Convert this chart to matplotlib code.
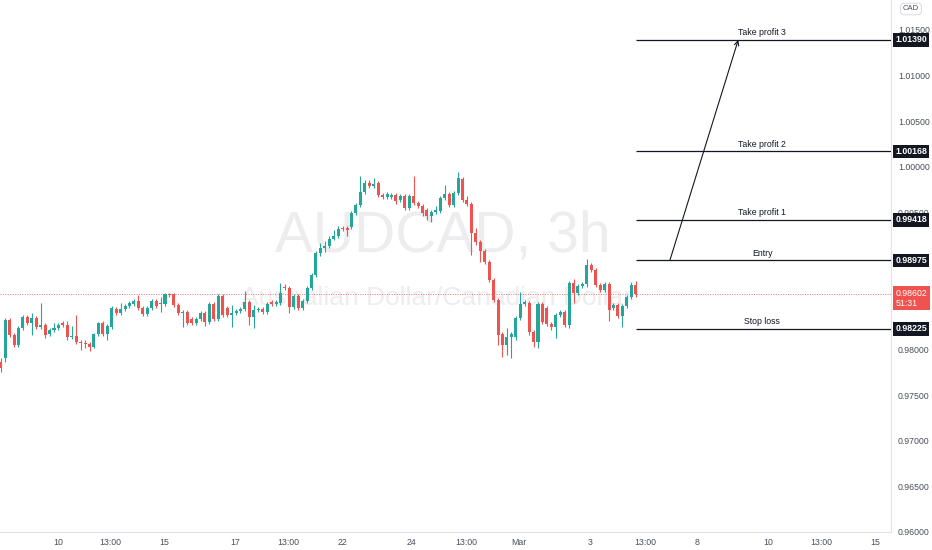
import numpy as np
import matplotlib
matplotlib.use("Agg")
import matplotlib.pyplot as plt

plt.rcParams['font.family'] = ['Liberation Sans', 'DejaVu Sans']

# AUDCAD 3h candles
opens = [
    0.97862, 0.97905, 0.98322, 0.98158, 0.98048, 0.98234, 0.98355, 0.98289, 0.98344, 0.98245,
    0.98267, 0.98169, 0.98213, 0.98234, 0.98289, 0.98267, 0.98136, 0.98147, 0.98081, 0.98070,
    0.98059, 0.98026, 0.98169, 0.98289, 0.98169, 0.98245, 0.98442, 0.98399, 0.98442, 0.98475,
    0.98497, 0.98530, 0.98453, 0.98388, 0.98453, 0.98530, 0.98497, 0.98497, 0.98607, 0.98607,
    0.98486, 0.98399, 0.98410, 0.98333, 0.98289, 0.98333, 0.98399, 0.98300, 0.98497, 0.98333,
    0.98585, 0.98453, 0.98377, 0.98399, 0.98421, 0.98442, 0.98519, 0.98355, 0.98432, 0.98442,
    0.98410, 0.98519, 0.98497, 0.98508, 0.98683, 0.98672, 0.98464, 0.98585, 0.98453, 0.98530,
    0.98672, 0.98815, 0.99056, 0.99110, 0.99132, 0.99209, 0.99242, 0.99330, 0.99330, 0.99341,
    0.99494, 0.99581, 0.99724, 0.99822, 0.99789, 0.99822, 0.99691, 0.99669, 0.99669, 0.99691,
    0.99636, 0.99680, 0.99549, 0.99680, 0.99603, 0.99570, 0.99527, 0.99461, 0.99505, 0.99516,
    0.99658, 0.99702, 0.99581, 0.99713, 0.99866, 0.99636, 0.99592, 0.99275, 0.99176, 0.99078,
    0.98957, 0.98760, 0.98541, 0.98169, 0.98048, 0.98136, 0.98136, 0.98344, 0.98497, 0.98508,
    0.98191, 0.98081, 0.98497, 0.98453, 0.98278, 0.98245, 0.98377, 0.98410, 0.98267, 0.98727,
    0.98618, 0.98694, 0.98716, 0.98924, 0.98870, 0.98705, 0.98651, 0.98716, 0.98453, 0.98486,
    0.98366, 0.98475, 0.98574, 0.98705,
]
closes = [
    0.97796, 0.98322, 0.98158, 0.98048, 0.98234, 0.98355, 0.98289, 0.98344, 0.98245, 0.98267,
    0.98158, 0.98213, 0.98234, 0.98267, 0.98267, 0.98136, 0.98147, 0.98081, 0.98070, 0.98059,
    0.98026, 0.98169, 0.98289, 0.98169, 0.98256, 0.98453, 0.98399, 0.98442, 0.98475, 0.98508,
    0.98530, 0.98453, 0.98388, 0.98453, 0.98530, 0.98475, 0.98508, 0.98607, 0.98596, 0.98486,
    0.98399, 0.98410, 0.98289, 0.98289, 0.98333, 0.98399, 0.98300, 0.98497, 0.98333, 0.98585,
    0.98377, 0.98377, 0.98399, 0.98421, 0.98442, 0.98519, 0.98355, 0.98432, 0.98442, 0.98410,
    0.98497, 0.98497, 0.98519, 0.98618, 0.98672, 0.98464, 0.98585, 0.98453, 0.98530, 0.98672,
    0.98815, 0.99056, 0.99110, 0.99132, 0.99209, 0.99242, 0.99319, 0.99319, 0.99308, 0.99494,
    0.99581, 0.99724, 0.99822, 0.99789, 0.99811, 0.99691, 0.99669, 0.99702, 0.99691, 0.99625,
    0.99680, 0.99549, 0.99680, 0.99603, 0.99570, 0.99494, 0.99461, 0.99505, 0.99527, 0.99658,
    0.99702, 0.99581, 0.99713, 0.99877, 0.99636, 0.99592, 0.99275, 0.99176, 0.99078, 0.98957,
    0.98760, 0.98541, 0.98158, 0.98048, 0.98136, 0.98169, 0.98344, 0.98497, 0.98519, 0.98191,
    0.98081, 0.98497, 0.98300, 0.98278, 0.98245, 0.98377, 0.98410, 0.98267, 0.98727, 0.98618,
    0.98694, 0.98716, 0.98924, 0.98870, 0.98705, 0.98651, 0.98716, 0.98432, 0.98486, 0.98366,
    0.98475, 0.98574, 0.98705, 0.98602,
]
highs = [
    0.97905, 0.98344, 0.98344, 0.98180, 0.98256, 0.98377, 0.98377, 0.98399, 0.98366, 0.98508,
    0.98289, 0.98234, 0.98289, 0.98289, 0.98311, 0.98311, 0.98256, 0.98377, 0.98103, 0.98103,
    0.98081, 0.98180, 0.98300, 0.98311, 0.98278, 0.98475, 0.98464, 0.98508, 0.98497, 0.98530,
    0.98552, 0.98596, 0.98475, 0.98475, 0.98552, 0.98552, 0.98574, 0.98618, 0.98618, 0.98618,
    0.98508, 0.98432, 0.98432, 0.98355, 0.98355, 0.98421, 0.98421, 0.98519, 0.98519, 0.98607,
    0.98607, 0.98475, 0.98486, 0.98442, 0.98464, 0.98640, 0.98541, 0.98486, 0.98464, 0.98464,
    0.98519, 0.98541, 0.98541, 0.98727, 0.98716, 0.98694, 0.98607, 0.98607, 0.98552, 0.98694,
    0.98837, 0.99078, 0.99165, 0.99187, 0.99242, 0.99308, 0.99352, 0.99352, 0.99352, 0.99516,
    0.99603, 0.99899, 0.99855, 0.99855, 0.99877, 0.99844, 0.99713, 0.99724, 0.99713, 0.99713,
    0.99702, 0.99702, 0.99702, 0.99899, 0.99625, 0.99592, 0.99549, 0.99527, 0.99570, 0.99680,
    0.99800, 0.99724, 0.99735, 0.99943, 0.99888, 0.99680, 0.99614, 0.99330, 0.99198, 0.99100,
    0.98979, 0.98782, 0.98563, 0.98191, 0.98234, 0.98191, 0.98366, 0.98629, 0.98541, 0.98530,
    0.98213, 0.98519, 0.98519, 0.98475, 0.98300, 0.98399, 0.98432, 0.98432, 0.98749, 0.98771,
    0.98716, 0.98738, 0.98990, 0.98946, 0.98892, 0.98727, 0.98738, 0.98738, 0.98508, 0.98508,
    0.98497, 0.98596, 0.98738, 0.98749,
]
lows = [
    0.97752, 0.97862, 0.98136, 0.98026, 0.98026, 0.98213, 0.98267, 0.98158, 0.98223, 0.98223,
    0.98125, 0.98147, 0.98191, 0.98213, 0.98245, 0.98103, 0.98114, 0.98059, 0.97993, 0.98015,
    0.97982, 0.98015, 0.98147, 0.98147, 0.98103, 0.98223, 0.98377, 0.98377, 0.98421, 0.98453,
    0.98475, 0.98432, 0.98366, 0.98366, 0.98432, 0.98453, 0.98410, 0.98475, 0.98574, 0.98464,
    0.98377, 0.98245, 0.98267, 0.98267, 0.98267, 0.98311, 0.98256, 0.98278, 0.98311, 0.98311,
    0.98355, 0.98355, 0.98245, 0.98377, 0.98399, 0.98421, 0.98267, 0.98234, 0.98410, 0.98388,
    0.98388, 0.98475, 0.98475, 0.98486, 0.98651, 0.98399, 0.98442, 0.98432, 0.98432, 0.98508,
    0.98651, 0.98793, 0.99023, 0.99067, 0.99110, 0.99198, 0.99220, 0.99297, 0.99242, 0.99319,
    0.99472, 0.99560, 0.99702, 0.99768, 0.99768, 0.99669, 0.99647, 0.99647, 0.99647, 0.99592,
    0.99614, 0.99527, 0.99527, 0.99581, 0.99549, 0.99461, 0.99417, 0.99395, 0.99483, 0.99494,
    0.99636, 0.99560, 0.99560, 0.99691, 0.99614, 0.99570, 0.99034, 0.99143, 0.98957, 0.98935,
    0.98738, 0.98519, 0.98048, 0.97917, 0.97939, 0.97905, 0.98103, 0.98322, 0.98475, 0.98158,
    0.98026, 0.98015, 0.98278, 0.98256, 0.98213, 0.98125, 0.98355, 0.98245, 0.98234, 0.98508,
    0.98596, 0.98672, 0.98683, 0.98848, 0.98683, 0.98629, 0.98629, 0.98311, 0.98432, 0.98344,
    0.98245, 0.98453, 0.98552, 0.98574,
]

# time axis: positions in bars (3h each, weekends skipped)
tick_pos = [12.9, 24.6, 36.8, 52.8, 64.7, 76.9, 92.6, 104.8, 116.7, 132.7, 145.1, 156.8, 172.8, 184.7, 196.9]
tick_labels = ['10', '13:00', '15', '17', '13:00', '22', '24', '13:00', 'Mar', '3', '13:00', '8', '10', '13:00', '15']

# price scale labels (0.99000 and 0.98500 sit under the level boxes, so not shown)
price_ticks = [0.960, 0.965, 0.970, 0.975, 0.980, 0.995, 1.000, 1.005, 1.010, 1.015]

# trade plan drawn on the chart
level_names = ['Take profit 3', 'Take profit 2', 'Take profit 1', 'Entry', 'Stop loss']
level_prices = [1.01390, 1.00168, 0.99418, 0.98975, 0.98225]
arrow_bars = [150.7, 166.1]
last_price = 0.98602
countdown = '51:31'

UP = '#26a69a'
DOWN = '#ef5350'
INK = '#131722'

o = np.array(opens)
c = np.array(closes)
h = np.array(highs)
l = np.array(lows)
x = np.arange(len(o))
col = np.where(c >= o, UP, DOWN)

fig = plt.figure(figsize=(9.32, 5.5), dpi=100)
ax = fig.add_axes([0, 18 / 550, 891 / 932, 532 / 550])
ax.set_xlim(-0.16, 200.5)
ax.set_ylim(0.96, 1.01827)

# watermark
ax.text(0.497, 0.556, 'AUDCAD, 3h', transform=ax.transAxes, ha='center', va='center',
        fontsize=41, color='#ededef', zorder=0)
ax.text(0.49, 0.44, 'Australian Dollar/Canadian Dollar', transform=ax.transAxes,
        ha='center', va='center', fontsize=19, color='#ededef', zorder=0)

# candles
ax.vlines(x, l, h, colors=col, linewidth=0.8, zorder=2)
body = c - o
body = np.where(np.abs(body) < 0.00003, 0.00003, body)
ax.bar(x, body, bottom=o, width=0.68, color=col, linewidth=0, zorder=3)

# last price line
ax.axhline(last_price, color=DOWN, lw=0.7, ls=(0, (1, 1.5)), alpha=0.8, zorder=1)

# horizontal levels
for name, p in zip(level_names, level_prices):
    ax.hlines(p, x[-1], 200.5, color=INK, lw=0.9, zorder=4)
    ax.annotate(name, xy=(171.5, p), xytext=(0, 2), textcoords='offset points',
                ha='center', va='bottom', fontsize=6.3, color=INK)
    ax.annotate(f'{p:.5f}', xy=(1, p), xycoords=('axes fraction', 'data'),
                xytext=(3, 0), textcoords='offset points', ha='left', va='center',
                fontsize=6.3, color='white', fontweight='bold', annotation_clip=False,
                bbox=dict(boxstyle='square,pad=0.25', fc=INK, ec='none'), zorder=6)

ax.annotate('', xy=(arrow_bars[1], level_prices[0]), xytext=(arrow_bars[0], level_prices[3]),
            arrowprops=dict(arrowstyle='->', color=INK, lw=0.8,
                            shrinkA=0, shrinkB=0, mutation_scale=8), zorder=5)

ax.annotate(f'{last_price:.5f}\n{countdown}', xy=(1, last_price),
            xycoords=('axes fraction', 'data'), xytext=(3, 4), textcoords='offset points',
            ha='left', va='top', fontsize=6.3, color='white', linespacing=1.1,
            annotation_clip=False,
            bbox=dict(boxstyle='square,pad=0.3', fc=DOWN, ec='none'), zorder=6)

# axes styling
ax.yaxis.tick_right()
ax.set_yticks(price_ticks)
ax.set_yticklabels([f'{v:.5f}' for v in price_ticks])
ax.tick_params(axis='y', length=0, pad=5, labelsize=6.3, labelcolor='#4a4e59')
ax.set_xticks(tick_pos)
ax.set_xticklabels(tick_labels)
ax.tick_params(axis='x', length=0, pad=4, labelsize=6.3, labelcolor='#4a4e59')
for side in ['top', 'left']:
    ax.spines[side].set_visible(False)
ax.spines['right'].set_color('#e0e3eb')
ax.spines['bottom'].set_color('#e0e3eb')

fig.text(911 / 932, 1 - 9 / 550, 'CAD', ha='center', va='center', fontsize=5.5,
         color='#4a4e59',
         bbox=dict(boxstyle='round,pad=0.3,rounding_size=0.4', fc='white', ec='#d1d4dc', lw=0.6))

fig.savefig('out.png', dpi=100)
